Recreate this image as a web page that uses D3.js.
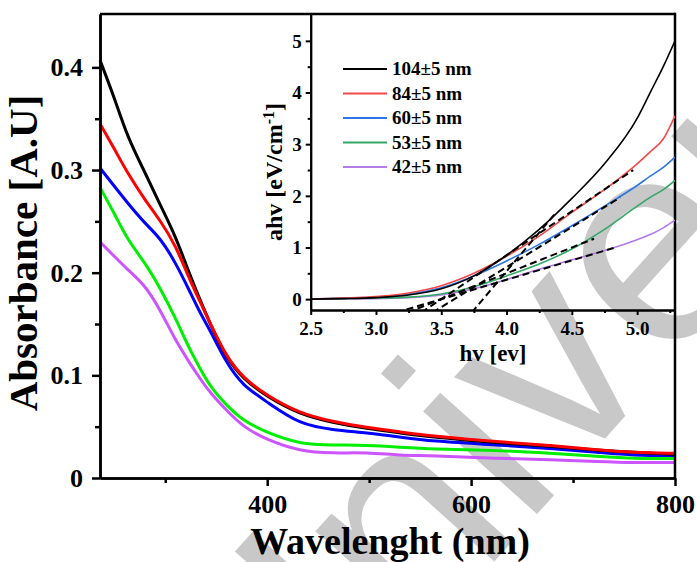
<!DOCTYPE html>
<html>
<head>
<meta charset="utf-8">
<script src="https://cdn.jsdelivr.net/npm/d3@7/dist/d3.min.js"></script>
<style>
  html, body { margin: 0; padding: 0; background: #fff; }
  svg { display: block; }
  text { font-family: "Liberation Serif", "Times New Roman", serif; font-weight: bold; fill: #000; }
</style>
</head>
<body>
<svg id="chart" width="697" height="562"></svg>
<script>
// ---------- main chart data ----------
const wavelength = [236, 251, 263, 280, 295, 310, 324, 334, 344, 360, 376, 400, 432, 464, 498, 530, 560, 628, 677, 726, 759, 800];
const abs104 = [0.407, 0.368, 0.332, 0.298, 0.266, 0.236, 0.198, 0.174, 0.150, 0.117, 0.097, 0.079, 0.062, 0.054, 0.048, 0.044, 0.040, 0.034, 0.031, 0.027, 0.025, 0.023];
const abs84  = [0.345, 0.319, 0.297, 0.271, 0.251, 0.227, 0.193, 0.172, 0.151, 0.118, 0.098, 0.080, 0.063, 0.055, 0.049, 0.045, 0.041, 0.035, 0.032, 0.027, 0.025, 0.024];
const abs60  = [0.302, 0.283, 0.268, 0.248, 0.234, 0.210, 0.182, 0.161, 0.144, 0.112, 0.090, 0.074, 0.052, 0.047, 0.044, 0.040, 0.036, 0.032, 0.029, 0.025, 0.022, 0.022];
const abs53  = [0.283, 0.256, 0.232, 0.210, 0.185, 0.156, 0.125, 0.107, 0.089, 0.071, 0.056, 0.044, 0.033, 0.032, 0.032, 0.030, 0.028, 0.027, 0.024, 0.021, 0.019, 0.019];
const abs42  = [0.230, 0.215, 0.203, 0.188, 0.164, 0.134, 0.112, 0.097, 0.083, 0.066, 0.050, 0.037, 0.026, 0.024, 0.025, 0.022, 0.022, 0.019, 0.018, 0.016, 0.015, 0.015];
const mainXTicks = [400, 600, 800];
const mainXMinor = [300, 500, 700];
const mainYTicks = [0, 0.1, 0.2, 0.3, 0.4];
const mainYMinor = [0.05, 0.15, 0.25, 0.35];

// ---------- inset data ----------
const photonEnergy = [2.5, 2.75, 3.0, 3.25, 3.5, 3.75, 4.0, 4.25, 4.5, 4.75, 5.0, 5.1, 5.2, 5.29];
const tauc104 = [0, 0.01, 0.03, 0.08, 0.20, 0.45, 0.85, 1.35, 1.95, 2.62, 3.50, 4.00, 4.50, 5.00];
const tauc84  = [0, 0.02, 0.05, 0.12, 0.26, 0.50, 0.83, 1.22, 1.68, 2.12, 2.62, 2.85, 3.10, 3.55];
const tauc60  = [0, 0.02, 0.04, 0.10, 0.22, 0.45, 0.74, 1.06, 1.42, 1.80, 2.20, 2.38, 2.55, 2.75];
const tauc53  = [0, 0.01, 0.02, 0.04, 0.10, 0.24, 0.45, 0.68, 0.97, 1.35, 1.80, 1.97, 2.12, 2.30];
const tauc42  = [0, 0.005, 0.01, 0.03, 0.08, 0.20, 0.38, 0.58, 0.76, 0.94, 1.15, 1.25, 1.38, 1.53];
// linear (Tauc) fits: x-intercept, slope, last energy of the dashed segment
const fitGap   = [3.82, 3.50, 3.60, 3.50, 3.50];
const fitSlope = [3.00, 1.70, 1.55, 1.00, 0.75];
const fitEnd   = [4.38, 4.97, 4.87, 4.67, 4.82];
const sizeLabels = ["104\u00b15 nm", "84\u00b15 nm", "60\u00b15 nm", "53\u00b15 nm", "42\u00b15 nm"];
const insetXTicks = [2.5, 3.0, 3.5, 4.0, 4.5, 5.0];
const insetXMinor = [2.75, 3.25, 3.75, 4.25, 4.75, 5.25];
const insetYTicks = [0, 1, 2, 3, 4, 5];
const insetYMinor = [0.5, 1.5, 2.5, 3.5, 4.5];

const mainColors  = ["#000000", "#ff0000", "#0000ff", "#00ee00", "#cc55ff"];
const insetColors = ["#000000", "#f24a4a", "#2b78e4", "#33a867", "#b57be8"];

const svg = d3.select("#chart");

// watermark (behind everything)
svg.append("text")
  .attr("transform", "translate(276,804) rotate(-48)")
  .style("font-family", "'Liberation Sans', Arial, sans-serif")
  .style("font-weight", "normal")
  .style("font-size", "290px")
  .style("fill", "#c8c8c8")
  .text("University");

// ---------- main chart ----------
const x = d3.scaleLinear().domain([236, 800]).range([100, 675]);
const y = d3.scaleLinear().domain([0, 0.452]).range([478, 14]);

const mainSeries = [abs104, abs84, abs60, abs53, abs42];
const drawOrder = [4, 3, 2, 0, 1];
const mainLine = d3.line().x(d => x(d[0])).y(d => y(d[1])).curve(d3.curveBasis);
drawOrder.forEach(i => {
  svg.append("path")
    .datum(wavelength.map((w, k) => [w, mainSeries[i][k]]))
    .attr("d", mainLine)
    .attr("fill", "none")
    .attr("stroke", mainColors[i])
    .attr("stroke-width", 3)
    .attr("stroke-linejoin", "round");
});

function styleAxis(g, width) {
  g.select(".domain").attr("stroke", "#000").attr("stroke-width", width);
  g.selectAll(".tick line").attr("stroke", "#000").attr("stroke-width", width);
}

// main minor ticks
const gxm = svg.append("g").attr("transform", "translate(0,478)")
  .call(d3.axisBottom(x).tickValues(mainXMinor).tickSize(5).tickSizeOuter(0).tickFormat(""));
styleAxis(gxm, 2.5);
const gym = svg.append("g").attr("transform", "translate(100,0)")
  .call(d3.axisLeft(y).tickValues(mainYMinor).tickSize(5).tickSizeOuter(0).tickFormat(""));
styleAxis(gym, 2.5);

const gx = svg.append("g").attr("transform", "translate(0,478)")
  .call(d3.axisBottom(x).tickValues(mainXTicks).tickSize(8).tickSizeOuter(0).tickFormat(d3.format("d")));
styleAxis(gx, 2.5);
gx.selectAll("text").attr("y", 34.5).attr("dy", null).style("font-size", "26px");

const gy = svg.append("g").attr("transform", "translate(100,0)")
  .call(d3.axisLeft(y).tickValues(mainYTicks).tickSize(8).tickPadding(9).tickSizeOuter(0)
    .tickFormat(d => d === 0 ? "0" : d3.format(".1f")(d)));
styleAxis(gy, 2.5);
gy.selectAll("text").attr("dy", "0.33em").style("font-size", "26px");

// frame top/right
svg.append("line").attr("x1", x.range()[0]).attr("x2", x.range()[1]).attr("y1", y.range()[1]).attr("y2", y.range()[1])
  .attr("stroke", "#000").attr("stroke-width", 2.5);
svg.append("line").attr("x1", x.range()[1]).attr("x2", x.range()[1]).attr("y1", y.range()[1] - 1.25).attr("y2", y.range()[0])
  .attr("stroke", "#000").attr("stroke-width", 2.5);

svg.append("text").attr("x", 390).attr("y", 553.5).attr("text-anchor", "middle")
  .style("font-size", "38px").text("Wavelenght (nm)");
svg.append("text").attr("transform", "translate(37,253) rotate(-90)").attr("text-anchor", "middle")
  .style("font-size", "41px").text("Absorbance [A.U]");

// ---------- inset ----------
const xi = d3.scaleLinear().domain([2.5, 5.29]).range([310.7, 675]);
const yi = d3.scaleLinear().domain([-0.21, 5.52]).range([310, 14]);

svg.append("clipPath").attr("id", "insetClip").append("rect")
  .attr("x", xi.range()[0]).attr("y", yi.range()[1]).attr("width", xi.range()[1] - xi.range()[0]).attr("height", yi.range()[0] - yi.range()[1]);
const inset = svg.append("g").attr("clip-path", "url(#insetClip)");

const insetSeries = [tauc104, tauc84, tauc60, tauc53, tauc42];
const insetLine = d3.line().x(d => xi(d[0])).y(d => yi(d[1])).curve(d3.curveMonotoneX);
[4, 3, 2, 1, 0].forEach(i => {
  inset.append("path")
    .datum(photonEnergy.map((e, k) => [e, insetSeries[i][k]]))
    .attr("d", insetLine)
    .attr("fill", "none")
    .attr("stroke", insetColors[i])
    .attr("stroke-width", 1.6);
});
fitGap.forEach((g, i) => {
  const yBottom = yi.domain()[0] - 0.05;
  const eStart = g + yBottom / fitSlope[i];
  const pts = [[eStart, yBottom], [fitEnd[i], fitSlope[i] * (fitEnd[i] - g)]];
  inset.append("path")
    .attr("d", d3.line().x(d => xi(d[0])).y(d => yi(d[1]))(pts))
    .attr("fill", "none").attr("stroke", "#000").attr("stroke-width", 2)
    .attr("stroke-dasharray", "7,4");
});

const gixm = svg.append("g").attr("transform", `translate(0,${yi.range()[0]})`)
  .call(d3.axisBottom(xi).tickValues(insetXMinor).tickSize(3).tickSizeOuter(0).tickFormat(""));
styleAxis(gixm, 2);
const giym = svg.append("g").attr("transform", `translate(${xi.range()[0]},0)`)
  .call(d3.axisLeft(yi).tickValues(insetYMinor).tickSize(3).tickSizeOuter(0).tickFormat(""));
styleAxis(giym, 2);
const gix = svg.append("g").attr("transform", `translate(0,${yi.range()[0]})`)
  .call(d3.axisBottom(xi).tickValues(insetXTicks).tickSize(5).tickSizeOuter(0).tickFormat(d3.format(".1f")));
styleAxis(gix, 2);
gix.selectAll("text").attr("y", 25).attr("dy", null).style("font-size", "19px");
const giy = svg.append("g").attr("transform", `translate(${xi.range()[0]},0)`)
  .call(d3.axisLeft(yi).tickValues(insetYTicks).tickSize(5).tickPadding(4).tickSizeOuter(0).tickFormat(d3.format("d")));
styleAxis(giy, 2);
giy.selectAll("text").attr("dy", "0.33em").style("font-size", "19px");

svg.append("text").attr("x", 493).attr("y", 361).attr("text-anchor", "middle")
  .style("font-size", "23px").text("hv [ev]");
const yl = svg.append("text").attr("transform", "translate(282,172) rotate(-90)").attr("text-anchor", "middle")
  .style("font-size", "24px");
yl.append("tspan").text("ahv [eV/cm");
yl.append("tspan").attr("dy", "-0.5em").style("font-size", "16px").text("-1");
yl.append("tspan").attr("dy", "0.35em").text("]");

// legend
const legend = svg.append("g");
sizeLabels.forEach((lab, i) => {
  const ly = 69 + i * 24.5;
  legend.append("line").attr("x1", 343).attr("x2", 387).attr("y1", ly).attr("y2", ly)
    .attr("stroke", insetColors[i]).attr("stroke-width", 1.8);
  legend.append("text").attr("x", 392).attr("y", ly).attr("dy", "0.33em")
    .style("font-size", "19px").text(lab);
});
</script>
</body>
</html>
